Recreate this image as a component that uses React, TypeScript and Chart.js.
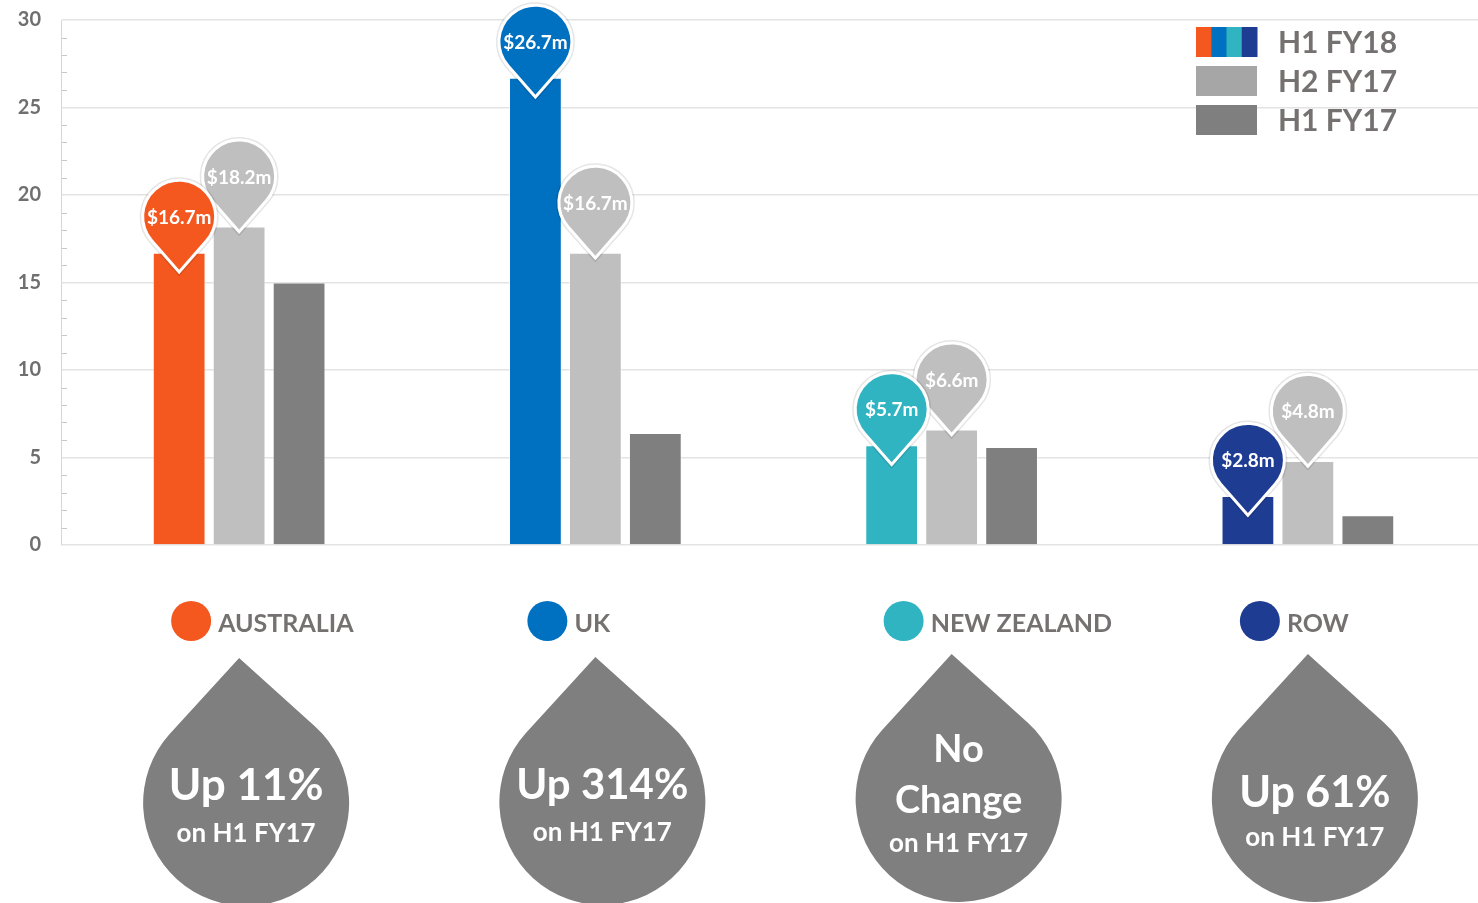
import React, { useEffect, useRef } from "react";
import { Chart, registerables } from "chart.js";

Chart.register(...registerables);

// ---------- data ----------
const regions = ["AUSTRALIA", "UK", "NEW ZEALAND", "ROW"];
const seriesLabels = ["H1 FY18", "H2 FY17", "H1 FY17"];
const h1fy18 = [16.7, 26.7, 5.7, 2.8];
const h2fy17 = [18.2, 16.7, 6.6, 4.8];
const h1fy17 = [15.0, 6.4, 5.6, 1.7];
const yTickValues = [0, 5, 10, 15, 20, 25, 30];
const changeText = [
  ["Up 11%", "on H1 FY17"],
  ["Up 314%", "on H1 FY17"],
  ["No", "Change", "on H1 FY17"],
  ["Up 61%", "on H1 FY17"],
];

// ---------- styles ----------
const regionColors = ["#F4581F", "#0070C0", "#31B4C2", "#1E3C92"];
const h2Color = "#BFBFBF";
const h1fy17Color = "#7F7F7F";
const legendSwatch = ["", "#A6A6A6", "#7F7F7F"];
const textGray = "#767171";
const FONT = "Lato, 'Open Sans', sans-serif";

// drop layout (tip y, line offsets from circle centre, line font sizes)
const dropTipY = [658, 657, 654, 654];
const dropLineOffsets = [
  [-17, 31],
  [-17, 31],
  [-49, 2, 45],
  [-6, 39],
];
const dropLineSizes = [
  [44, 26],
  [42, 26],
  [38, 38, 26],
  [43, 26],
];

function tearPath(
  ctx: CanvasRenderingContext2D,
  px: number,
  py: number,
  cx: number,
  cy: number,
  r: number
) {
  const dx = px - cx;
  const dy = py - cy;
  const d = Math.sqrt(dx * dx + dy * dy);
  const base = Math.atan2(dy, dx);
  const alpha = Math.acos(r / d);
  ctx.beginPath();
  ctx.moveTo(px, py);
  ctx.arc(cx, cy, r, base + alpha, base - alpha + Math.PI * 2, false);
  ctx.closePath();
}

const minorTicksPlugin = {
  id: "minorTicks",
  beforeDatasetsDraw(chart: any) {
    const ctx = chart.ctx;
    const y = chart.scales.y;
    const left = chart.chartArea.left;
    ctx.save();
    ctx.strokeStyle = "#C8C8C8";
    ctx.lineWidth = 1;
    for (let v = 1; v < 30; v++) {
      if (v % 5 === 0) continue;
      const py = Math.round(y.getPixelForValue(v)) + 0.5;
      ctx.beginPath();
      ctx.moveTo(left + 1, py);
      ctx.lineTo(left + 6, py);
      ctx.stroke();
    }
    ctx.restore();
  },
};

const overlayPlugin = {
  id: "overlay",
  afterDatasetsDraw(chart: any) {
    const ctx = chart.ctx;
    const r = 35;
    const drawPin = (x: number, top: number, lift: number, color: string, text: string) => {
      const cy = top - lift;
      const ty = cy + 53;
      ctx.save();
      tearPath(ctx, x, ty, x, cy, r);
      ctx.lineJoin = "miter";
      ctx.strokeStyle = "rgba(0,0,0,0.10)";
      ctx.lineWidth = 9;
      ctx.stroke();
      ctx.strokeStyle = "#FFFFFF";
      ctx.lineWidth = 6;
      ctx.stroke();
      ctx.fillStyle = color;
      ctx.fill();
      ctx.fillStyle = "#FFFFFF";
      ctx.font = `bold 19px ${FONT}`;
      ctx.textAlign = "center";
      ctx.textBaseline = "middle";
      ctx.fillText(text, x, cy + 1);
      ctx.restore();
    };
    const m1 = chart.getDatasetMeta(1);
    m1.data.forEach((el: any, i: number) => {
      drawPin(el.x, el.y, 50, h2Color, `$${h2fy17[i].toFixed(1)}m`);
    });
    const m0 = chart.getDatasetMeta(0);
    m0.data.forEach((el: any, i: number) => {
      drawPin(el.x, el.y, 36, regionColors[i], `$${h1fy18[i].toFixed(1)}m`);
    });
  },
  afterDraw(chart: any) {
    const ctx = chart.ctx;
    const xs = chart.scales.x;
    ctx.save();
    // legend
    const lx = 1196;
    const sw = 61;
    const sh = 30;
    const rowTops = [27, 66, 105];
    seriesLabels.forEach((lab, i) => {
      const top = rowTops[i];
      if (i === 0) {
        regionColors.forEach((c, k) => {
          ctx.fillStyle = c;
          ctx.fillRect(lx + (sw / 4) * k, top, sw / 4 + 0.5, sh);
        });
      } else {
        ctx.fillStyle = legendSwatch[i];
        ctx.fillRect(lx, top, sw, sh);
      }
      ctx.fillStyle = textGray;
      ctx.font = `bold 30px ${FONT}`;
      ctx.textAlign = "left";
      ctx.textBaseline = "middle";
      ctx.fillText(lab, 1278, top + sh / 2 + 1);
    });

    // region labels and drops
    regions.forEach((name, i) => {
      const gx = xs.getPixelForValue(i);
      ctx.fillStyle = regionColors[i];
      ctx.beginPath();
      ctx.arc(gx - 48, 621, 20, 0, Math.PI * 2);
      ctx.fill();
      ctx.fillStyle = textGray;
      ctx.font = `bold 25px ${FONT}`;
      ctx.textAlign = "left";
      ctx.textBaseline = "middle";
      ctx.fillText(name, gx - 21, 624);

      const tipY = dropTipY[i];
      const cx = gx + 7;
      const cy = tipY + 145;
      tearPath(ctx, gx, tipY, cx, cy, 103);
      ctx.fillStyle = "#7F7F7F";
      ctx.fill();
      ctx.fillStyle = "#FFFFFF";
      ctx.textAlign = "center";
      ctx.textBaseline = "middle";
      changeText[i].forEach((line, k) => {
        ctx.font = `bold ${dropLineSizes[i][k]}px ${FONT}`;
        ctx.fillText(line, cx, cy + dropLineOffsets[i][k]);
      });
    });
    ctx.restore();
  },
};

export default function App() {
  const ref = useRef<HTMLCanvasElement | null>(null);
  useEffect(() => {
    if (!ref.current) return;
    const chart = new Chart(ref.current, {
      type: "bar",
      data: {
        labels: regions,
        datasets: [
          { label: seriesLabels[0], data: h1fy18, backgroundColor: regionColors, borderColor: "rgba(255,255,255,0.5)", borderWidth: 1 },
          { label: seriesLabels[1], data: h2fy17, backgroundColor: h2Color, borderColor: "rgba(255,255,255,0.5)", borderWidth: 1 },
          { label: seriesLabels[2], data: h1fy17, backgroundColor: h1fy17Color, borderColor: "rgba(255,255,255,0.5)", borderWidth: 1 },
        ],
      },
      options: {
        responsive: false,
        animation: false,
        devicePixelRatio: 1,
        layout: { padding: { top: 0, bottom: 358, left: 0, right: 0 } },
        datasets: { bar: { categoryPercentage: 0.505, barPercentage: 0.88 } },
        plugins: { legend: { display: false }, tooltip: { enabled: false } },
        scales: {
          x: { display: false },
          y: {
            min: 0,
            max: 30,
            afterBuildTicks: (s: any) => {
              s.ticks = yTickValues.map((v) => ({ value: v }));
            },
            afterFit: (s: any) => {
              s.width = 61;
            },
            ticks: {
              color: "#6F6F6F",
              font: { family: FONT, size: 20, weight: "bold" },
              padding: 8,
            },
            grid: {
              color: "#E3E3E3",
              drawTicks: true,
              tickLength: 12,
              tickColor: "rgba(0,0,0,0)",
              lineWidth: 1.5,
            },
            border: { color: "#D6D6D6" },
          },
        },
      } as any,
      plugins: [minorTicksPlugin, overlayPlugin],
    });
    let alive = true;
    if ((document as any).fonts && (document as any).fonts.load) {
      Promise.all([
        (document as any).fonts.load(`bold 20px Lato`),
      ]).then(() => {
        if (alive) chart.update();
      }).catch(() => {});
    }
    return () => {
      alive = false;
      chart.destroy();
    };
  }, []);
  return (
    <div
      style={{
        position: "absolute",
        left: 0,
        top: 0,
        width: 1478,
        height: 903,
        overflow: "hidden",
        background: "#FFFFFF",
      }}
    >
      <canvas ref={ref} width={1486} height={903} style={{ display: "block" }} />
    </div>
  );
}
